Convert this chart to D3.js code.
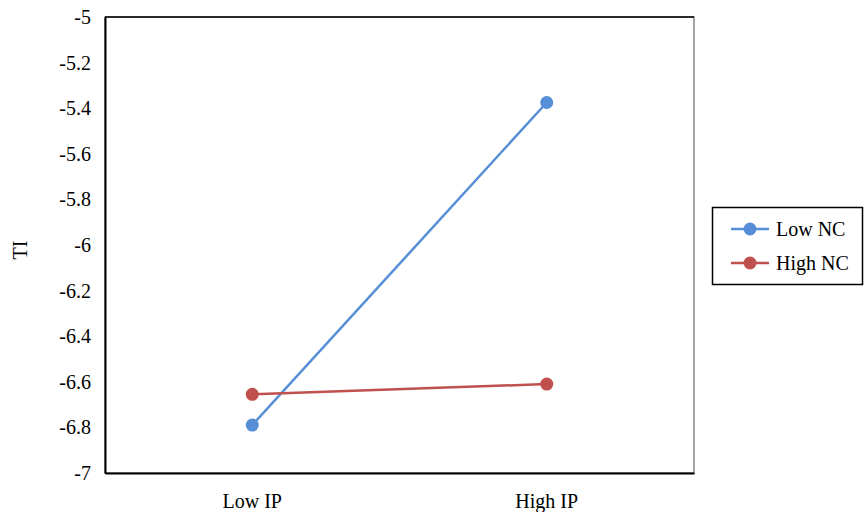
<!DOCTYPE html>
<html>
<head>
<meta charset="utf-8">
<script src="https://cdn.jsdelivr.net/npm/d3@7"></script>
<style>
  body { margin: 0; background: #fff; }
  svg text { font-family: "Liberation Serif", "Times New Roman", serif !important; fill: #000; }
</style>
</head>
<body>
<svg id="chart" width="864" height="512"></svg>
<script>
const categories = ["Low IP", "High IP"];
const seriesNames = ["Low NC", "High NC"];
const lowNC = [-6.79, -5.375];
const highNC = [-6.655, -6.61];
const yTicks = [-5, -5.2, -5.4, -5.6, -5.8, -6, -6.2, -6.4, -6.6, -6.8, -7];
const colors = ["#568fd7", "#c0504d"];

const margin = {left: 105, right: 170, top: 17, bottom: 39};
const width = 864 - margin.left - margin.right;
const height = 512 - margin.top - margin.bottom;

const svg = d3.select("#chart");
const chart = svg.append("g")
    .attr("transform", `translate(${margin.left},${margin.top})`);

const x = d3.scaleBand().domain(categories).range([0, width]);
const y = d3.scaleLinear().domain([-7, -5]).range([height, 0]);

// plot border
chart.append("rect")
    .attr("x", 0).attr("y", 0)
    .attr("width", width).attr("height", height)
    .attr("fill", "none").attr("stroke", "#888").attr("stroke-width", 1.5);
chart.append("line")
    .attr("x1", 0).attr("x2", width).attr("y1", 0).attr("y2", 0)
    .attr("stroke", "#000").attr("stroke-width", 1.5);

const yAxis = chart.append("g")
    .attr("font-family", "Liberation Serif")
    .call(d3.axisLeft(y).tickValues(yTicks).tickSize(0).tickPadding(14)
      .tickFormat(d => String(d)));
yAxis.attr("font-family", "Liberation Serif");
yAxis.select(".domain").attr("stroke", "#000").attr("stroke-width", 2);
yAxis.selectAll("text").style("font-size", "20px");

const xAxis = chart.append("g")
    .attr("transform", `translate(0,${height})`)
    .call(d3.axisBottom(x).tickSize(0).tickPadding(21));
xAxis.attr("font-family", "Liberation Serif");
xAxis.select(".domain").attr("stroke", "#000").attr("stroke-width", 2);
xAxis.selectAll("text").style("font-size", "20px");

svg.append("text")
    .attr("transform", "translate(27,250) rotate(-90)")
    .attr("text-anchor", "middle")
    .style("font-size", "20px")
    .text("TI");

const series = [lowNC, highNC];
const line = d3.line()
    .x((d, i) => x(categories[i]) + x.bandwidth() / 2)
    .y(d => y(d));

series.forEach((vals, s) => {
  chart.append("path")
      .attr("d", line(vals))
      .attr("fill", "none")
      .attr("stroke", colors[s])
      .attr("stroke-width", 2.5);
  chart.selectAll(".pt" + s)
    .data(vals)
    .join("circle")
      .attr("class", "pt" + s)
      .attr("cx", (d, i) => x(categories[i]) + x.bandwidth() / 2)
      .attr("cy", d => y(d))
      .attr("r", 6.5)
      .attr("fill", colors[s]);
});

// legend
const legend = svg.append("g").attr("transform", "translate(712,207)");
legend.append("rect")
    .attr("x", 0.5).attr("y", 0.5)
    .attr("width", 150).attr("height", 77)
    .attr("fill", "#fff").attr("stroke", "#000").attr("stroke-width", 1.5);
seriesNames.forEach((name, i) => {
  const g = legend.append("g").attr("transform", `translate(0,${22 + i * 34})`);
  g.append("line")
      .attr("x1", 19).attr("x2", 57).attr("y1", 0).attr("y2", 0)
      .attr("stroke", colors[i]).attr("stroke-width", 2.5);
  g.append("circle").attr("cx", 38).attr("cy", 0).attr("r", 6.5).attr("fill", colors[i]);
  g.append("text")
      .attr("x", 64).attr("y", 7)
      .style("font-size", "20px")
      .text(name);
});
</script>
</body>
</html>
